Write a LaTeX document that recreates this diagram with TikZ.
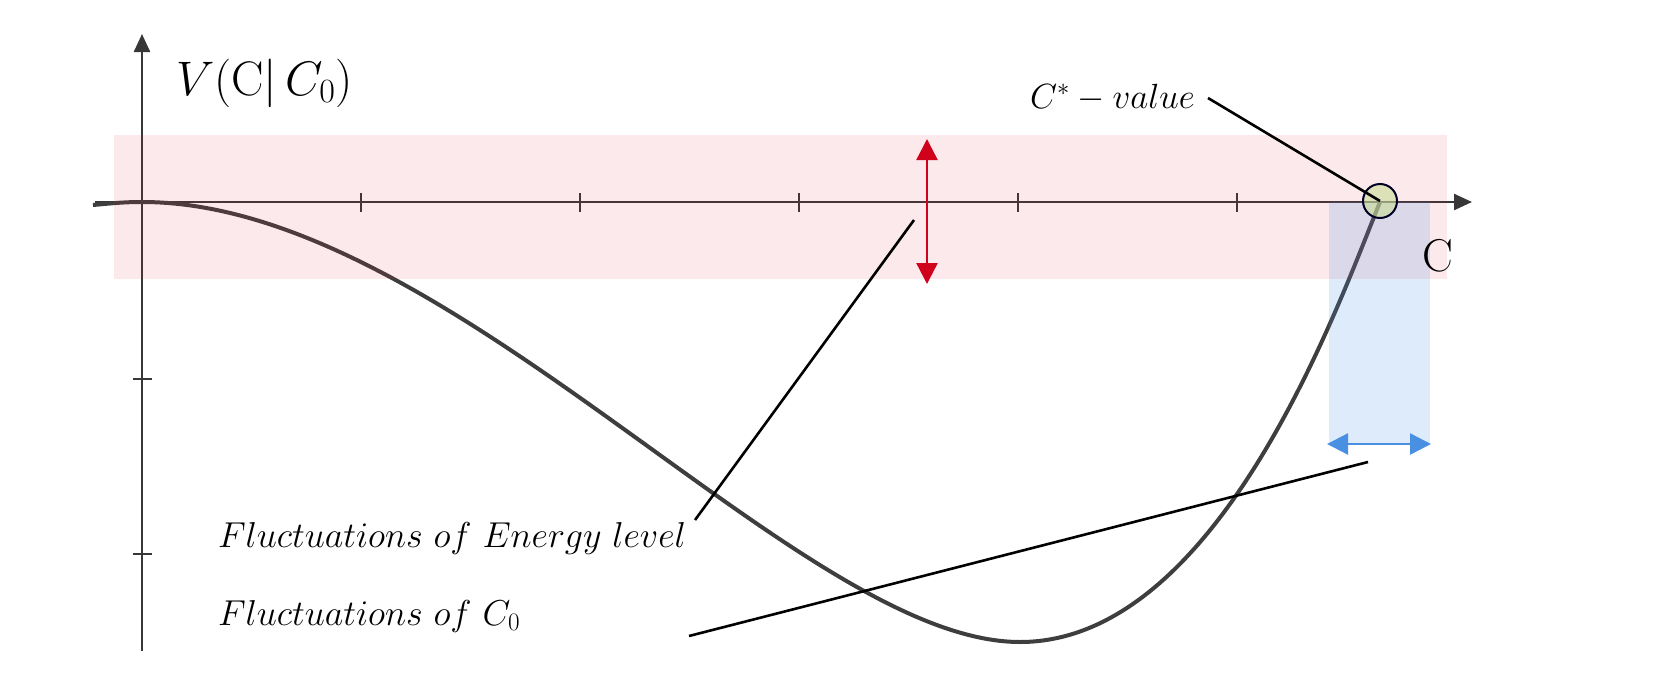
\RequirePackage{fix-cm}
\documentclass[tikz,border=0pt]{standalone}
\usetikzlibrary{arrows.meta}
\definecolor{axisc}{RGB}{55,55,55}
\definecolor{curvec}{RGB}{62,62,62}
\definecolor{bandred}{RGB}{220,40,60}
\definecolor{bandblue}{RGB}{74,144,226}
\definecolor{arrred}{RGB}{208,2,27}
\definecolor{arrblue}{RGB}{74,144,226}
\definecolor{circc}{RGB}{200,220,150}
\tikzset{
  axisline/.style={draw=axisc, line width=2.4pt},
  tickline/.style={draw=axisc, line width=2.2pt},
  curveline/.style={draw=curvec, line width=4pt},
  leader/.style={draw=black, line width=2.6pt},
  lbl/.style={inner sep=0pt, outer sep=0pt},
}
\begin{document}
\begin{tikzpicture}[x=1pt,y=-1pt]
\useasboundingbox (0,0) rectangle (1659,688);
% axes
\coordinate (O) at (142,202);
\coordinate (xs) at (95,202);
\coordinate (xe) at (1472,202);
\coordinate (ys) at (142,651);
\coordinate (ye) at (142,34);
\draw[axisline, -{Triangle[length=18pt,width=16pt]}] (xs) -- (xe);
\draw[axisline, -{Triangle[length=18pt,width=16pt]}] (ys) -- (ye);
\foreach \x in {361,580,799,1018,1237} \draw[tickline] (\x,193) -- (\x,212);
\foreach \y in {379,554} \draw[tickline] (133,\y) -- (152,\y);
% curve
\draw[curveline] (93,205) .. controls (115,203) and (125,202) .. (O)
  .. controls (450,202) and (800,642) .. (1020,642)
  .. controls (1220,642) and (1340,300) .. (1380,202);
% bands
\fill[bandred, fill opacity=0.1] (114,135) rectangle (1447,279);
\fill[bandblue, fill opacity=0.18] (1329,202) rectangle (1430,444);
% circle
\node[circle, draw=black!85!blue, line width=2pt, fill=circc, fill opacity=0.6, minimum size=34pt, inner sep=0pt] (cs) at (1380,201) {};
% arrows
\coordinate (rt) at (927,139);
\coordinate (rb) at (927,284);
\draw[arrred, line width=2.4pt, {Triangle[length=21pt,width=21pt]}-{Triangle[length=21pt,width=21pt]}] (rt) -- (rb);
\coordinate (bl) at (1327,444);
\coordinate (br) at (1431,444);
\draw[arrblue, line width=2.4pt, {Triangle[length=21pt,width=21pt]}-{Triangle[length=21pt,width=21pt]}] (bl) -- (br);
% labels
\node[lbl, anchor=base west, font=\fontsize{48.5}{52}\selectfont] (vlab) at (176,95) {$V(\mathrm{C}|\,C_0)$};
\node[lbl, font=\fontsize{46}{50}\selectfont] (clab) at (1438,256) {C};
\node[lbl, anchor=base west, font=\fontsize{35}{40}\selectfont] (cstar) at (1030,108) {$C^{*}-value$};
\node[lbl, anchor=base west, font=\fontsize{36}{42}\selectfont] (fe) at (218,547) {$Fluctuations\ of\ Energy\ level$};
\node[lbl, anchor=base west, font=\fontsize{36}{42}\selectfont] (fc) at (218,625) {$Fluctuations\ of\ C_0$};
% leader lines
\coordinate (cstarend) at (1208,98);
\draw[leader] (cstarend) -- (cs.center);
\coordinate (fea) at (695,520);
\coordinate (feb) at (914,220);
\draw[leader] (fea) -- (feb);
\coordinate (fca) at (689,636);
\coordinate (fcb) at (1368,462);
\draw[leader] (fca) -- (fcb);
\end{tikzpicture}
\end{document}
